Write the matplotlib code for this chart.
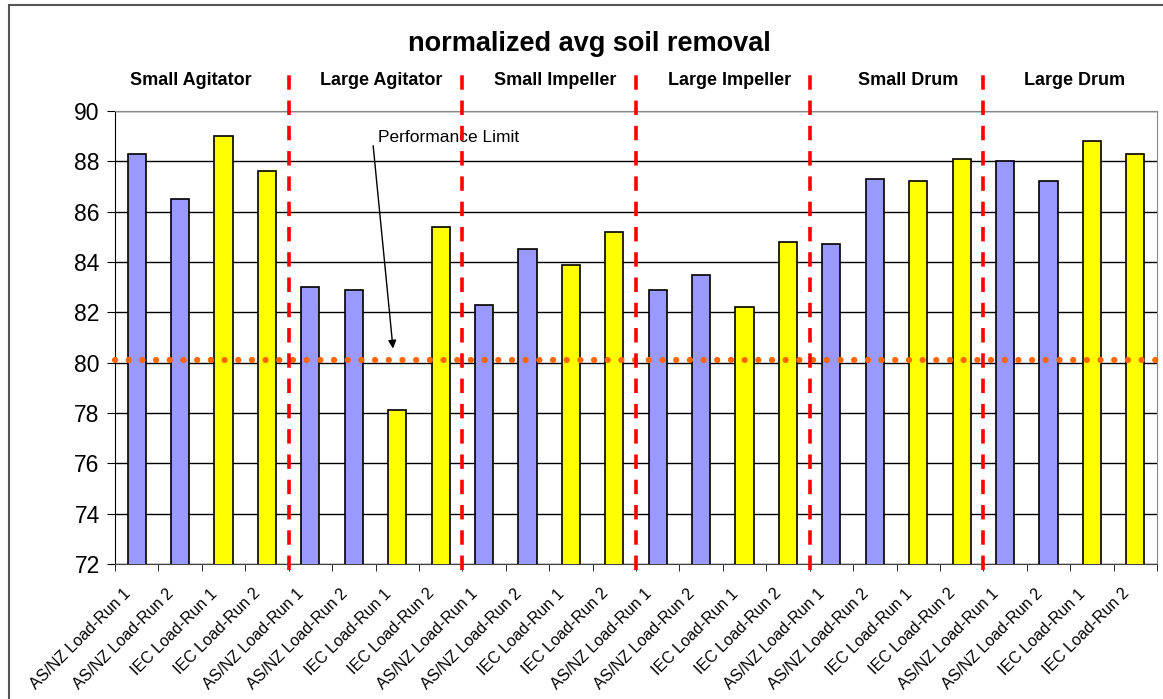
import matplotlib.pyplot as plt
import matplotlib.transforms as mtransforms
from matplotlib.patches import Rectangle

# data
groups = ["Small Agitator", "Large Agitator", "Small Impeller",
          "Large Impeller", "Small Drum", "Large Drum"]
group_label_x = [1.25, 5.63, 9.63, 13.66, 17.76, 21.61]
runs = ["AS/NZ Load-Run 1", "AS/NZ Load-Run 2", "IEC Load-Run 1", "IEC Load-Run 2"]
soil_removal = [88.3, 86.5, 89.0, 87.6,
                83.0, 82.9, 78.1, 85.4,
                82.3, 84.5, 83.9, 85.2,
                82.9, 83.5, 82.2, 84.8,
                84.7, 87.3, 87.2, 88.1,
                88.0, 87.2, 88.8, 88.3]
performance_limit = 80.12


def main():
    plt.rcParams['font.family'] = ['Liberation Sans', 'DejaVu Sans']

    labels = runs * len(groups)
    colors = ['#9999FF' if lab.startswith('AS/NZ') else '#FFFF00' for lab in labels]
    x = list(range(len(labels)))

    fig = plt.figure(figsize=(11.63, 6.99), dpi=100)
    ax = fig.add_axes([115 / 1163, 1 - 564 / 699, 1042 / 1163, 453 / 699])

    # gridlines
    ax.set_axisbelow(True)
    ax.yaxis.grid(True, color='black', linewidth=1)

    # bars
    ax.bar(x, soil_removal, width=0.42, color=colors, edgecolor='black',
           linewidth=1.2, zorder=3)

    ax.set_xlim(-0.5, len(labels) - 0.5)
    ax.set_ylim(72, 90)
    ax.set_yticks(range(72, 91, 2))

    # performance limit dotted line
    ax.plot([-0.5, len(labels) - 0.5], [performance_limit, performance_limit],
            color='#FF6600', linewidth=4.5, linestyle=(0, (0.01, 2.18)),
            dash_capstyle='round', zorder=4, clip_on=False)

    # group separators
    for i in range(1, len(groups)):
        ax.plot([4 * i - 0.5, 4 * i - 0.5], [71.75, 91.65], color='#FF0000',
                linewidth=2.6, linestyle=(0, (4, 3)), clip_on=False, zorder=5)

    # group names
    for gx, g in zip(group_label_x, groups):
        ax.text(gx, 91.2, g, ha='center', va='center',
                fontsize=13, fontweight='bold')

    # annotation
    ax.text(5.56, 88.93, "Performance Limit", ha='left', va='center', fontsize=12.5)
    ax.annotate("", xy=(5.91, 80.45), xytext=(5.44, 88.73),
                arrowprops=dict(arrowstyle='-|>', color='black', lw=1,
                                mutation_scale=12))

    # x labels drawn as text so they can sit where Excel puts them
    ax.set_xticks(x)
    ax.set_xticklabels([])
    shift = mtransforms.ScaledTranslation(-14 / 100, -22 / 100, fig.dpi_scale_trans)
    for xi, lab in zip(x, labels):
        ax.text(xi, 0, lab, rotation=45, ha='right', va='top',
                rotation_mode='anchor', fontsize=11.5,
                transform=ax.get_xaxis_transform() + shift)
    ax.set_xticks([i - 0.5 for i in range(len(labels) + 1)], minor=True)
    ax.tick_params(axis='x', which='major', length=0)
    ax.tick_params(axis='x', which='minor', length=5, direction='out')
    ax.tick_params(axis='y', labelsize=16.5, length=6, direction='out', pad=5)

    for side in ['top', 'right']:
        ax.spines[side].set_color('#888888')
    ax.spines['left'].set_color('black')
    ax.spines['bottom'].set_color('#444444')

    fig.text(589 / 1163, 1 - 44 / 699, "normalized avg soil removal",
             ha='center', va='center', fontsize=19.5, fontweight='bold')

    # outer chart frame
    fig.patches.append(Rectangle((9 / 1163, -0.1), 1.2, 0.1 + 694 / 699,
                                 transform=fig.transFigure, fill=False,
                                 edgecolor='#555555', linewidth=1.5))

    fig.savefig('out.png', dpi=100, facecolor='white')


if __name__ == '__main__':
    main()
